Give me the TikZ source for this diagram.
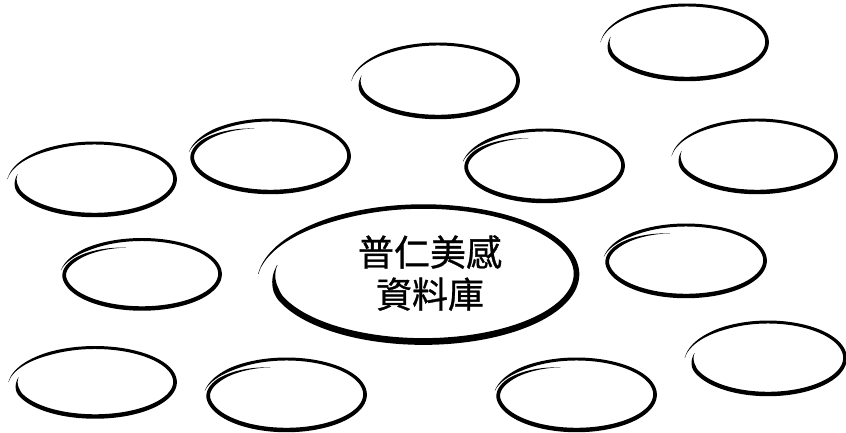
\documentclass[tikz,border=0pt]{standalone}
\usepackage{fontspec}
\newfontfamily\cjk[FakeBold=0.9]{Noto Sans CJK TC}
\tikzset{
  declare function={
    nrmx(\t,\k)=\k*cos(\t)/sqrt(\k*\k*cos(\t)*cos(\t)+sin(\t)*sin(\t));
    nrmy(\t,\k)=sin(\t)/sqrt(\k*\k*cos(\t)*cos(\t)+sin(\t)*sin(\t));
    sA(\t)=1-0.035*max(0,200-\t)/28+0.08*(max(0,\t-470)/70)*(max(0,\t-470)/70);
    wA(\t)=(1-0.2*sin(\t))*max(0.08,min(1,(\t-172)/22,(540-\t)/55));
    sB(\t)=1-0.21*(max(0,185-\t)/80)*sqrt(max(0,185-\t)/80)+0.045*(max(0,\t-480)/54)*(max(0,\t-480)/54);
    wB(\t)=(1-0.2*sin(\t))*max(0.08,min(1,(\t-105)/50,(534-\t)/40));
  },
  pics/handA/.style n args={3}{code={
    \fill[black] plot[domain=172:540,samples=180]
      ({#1*sA(\x)*cos(\x)+#3*wA(\x)*nrmx(\x,#2/#1)},
       {-(#2*sA(\x)*sin(\x)+#3*wA(\x)*nrmy(\x,#2/#1))})
      -- plot[domain=540:172,samples=180]
      ({#1*sA(\x)*cos(\x)-#3*wA(\x)*nrmx(\x,#2/#1)},
       {-(#2*sA(\x)*sin(\x)-#3*wA(\x)*nrmy(\x,#2/#1))}) -- cycle;
  }},
  pics/handB/.style n args={3}{code={
    \fill[black] plot[domain=105:534,samples=200]
      ({#1*sB(\x)*cos(\x)+#3*wB(\x)*nrmx(\x,#2/#1)},
       {-(#2*sB(\x)*sin(\x)+#3*wB(\x)*nrmy(\x,#2/#1))})
      -- plot[domain=534:105,samples=200]
      ({#1*sB(\x)*cos(\x)-#3*wB(\x)*nrmx(\x,#2/#1)},
       {-(#2*sB(\x)*sin(\x)-#3*wB(\x)*nrmy(\x,#2/#1))}) -- cycle;
  }},
  titletext/.style={align=center, inner sep=0pt,
    font=\cjk\fontsize{36pt}{42pt}\selectfont},
}
\begin{document}
\begin{tikzpicture}[x=1pt,y=-1pt]
\useasboundingbox (0,0) rectangle (846,432);
% centres of the bubbles
\coordinate (e1) at (94.5,179);
\coordinate (e2) at (687,42);
\coordinate (e3) at (438,80.5);
\coordinate (e4) at (270.5,156);
\coordinate (e5) at (544.5,165.5);
\coordinate (e6) at (757,156);
\coordinate (e7) at (142,274);
\coordinate (e8) at (686,260.5);
\coordinate (e9) at (95,382);
\coordinate (e10) at (286.5,394.5);
\coordinate (e11) at (576.5,394.5);
\coordinate (e12) at (768,358);
\coordinate (core) at (423.5,274);

\pic at (e1) {handA={80.5}{36}{1.85}};
\pic at (e2) {handA={80}{37}{1.85}};
\pic at (e3) {handA={80}{36.5}{1.85}};
\pic at (e4) {handB={78.5}{36}{1.85}};
\pic at (e5) {handB={78.5}{35.5}{1.85}};
\pic at (e6) {handA={79}{36}{1.85}};
\pic at (e7) {handB={78}{34.5}{1.85}};
\pic at (e8) {handB={79}{35.5}{1.85}};
\pic at (e9) {handA={80}{34.5}{1.85}};
\pic at (e10) {handB={78.5}{35.5}{1.85}};
\pic at (e11) {handB={78.5}{35.5}{1.85}};
\pic at (e12) {handA={77}{36}{1.85}};
\pic at (core) {handA={153}{67.5}{2.8}};

\node[titletext] (title) at (430,273) {普仁美感\\資料庫};
\end{tikzpicture}
\end{document}
